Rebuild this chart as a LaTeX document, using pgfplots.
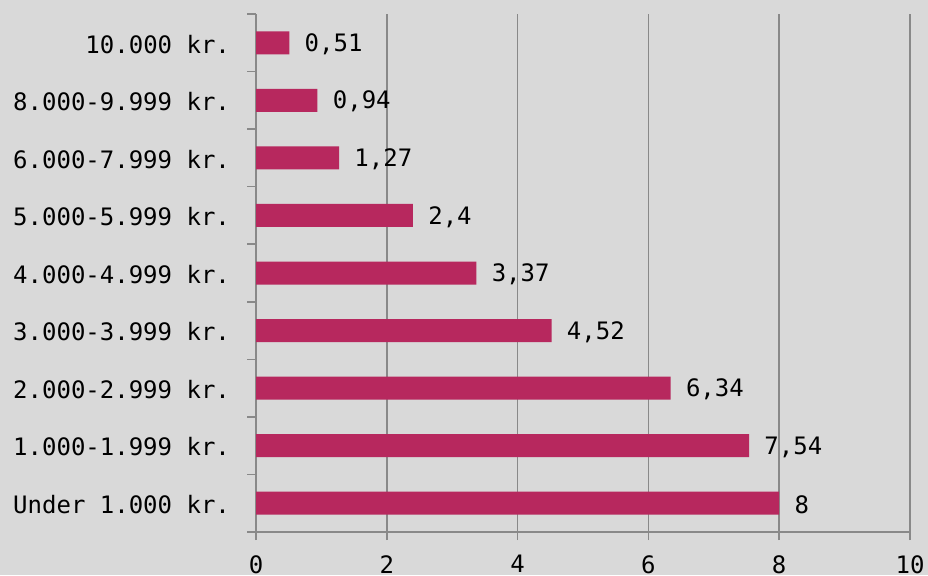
\documentclass[border=0pt]{standalone}
\usepackage{pgfplots}
\pgfplotsset{compat=1.18}
\usepackage{fontspec}
\setmainfont{DejaVu Sans Mono}
\definecolor{bg}{RGB}{217,217,217}
\definecolor{barc}{RGB}{183,40,94}
\definecolor{gridc}{RGB}{137,137,137}
\begin{document}
\begin{tikzpicture}
\useasboundingbox (0,0) rectangle (696pt,431.25pt);
\fill[bg] (0,0) rectangle (696pt,431.25pt);
\begin{axis}[
  at={(192pt,32.25pt)}, anchor=south west,
  scale only axis, width=490.5pt, height=388.5pt,
  xbar, bar width=17.25pt,
  xmin=0, xmax=10, ymin=-0.5, ymax=8.5,
  axis x line*=bottom, axis y line*=left,
  axis line style={gridc, line width=1.2pt, -},
  xtick={0,2,4,6,8,10},
  ytick={0,...,8},
  yticklabels={Under 1.000 kr.,1.000-1.999 kr.,2.000-2.999 kr.,3.000-3.999 kr.,4.000-4.999 kr.,5.000-5.999 kr.,6.000-7.999 kr.,8.000-9.999 kr.,10.000 kr.},
  minor ytick={-0.5,0.5,...,8.5},
  tick align=outside,
  major tick length=6pt,
  y tick style={draw=none},
  minor y tick style={draw=gridc, line width=1.2pt},
  minor tick length=6.75pt,
  x tick style={draw=gridc, line width=1.2pt},
  xmajorgrids, major grid style={gridc, line width=1.2pt},
  tick label style={font=\fontsize{18}{20}\selectfont, text=black},
  yticklabel style={xshift=-10pt, yshift=-1pt},
  xticklabel style={yshift=-8pt},
  /pgf/number format/assume math mode=true,
  /pgf/number format/use comma,
  nodes near coords,
  nodes near coords style={font=\fontsize{18}{20}\selectfont, text=black, anchor=west, xshift=8pt, yshift=-1pt},
  every node near coord/.append style={/pgf/number format/use comma},
]
\addplot[fill=barc, draw=none] coordinates {
(8,0) (7.54,1) (6.34,2) (4.52,3) (3.37,4) (2.4,5) (1.27,6) (0.94,7) (0.51,8)};
\end{axis}
\end{tikzpicture}
\end{document}
